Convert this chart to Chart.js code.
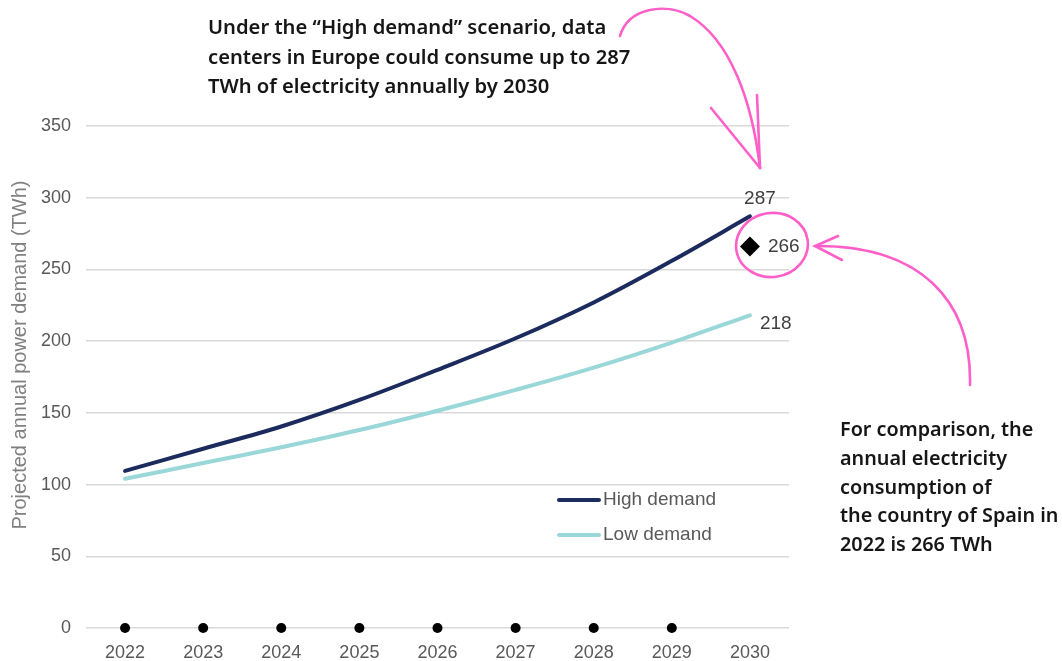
<!DOCTYPE html>
<html>
<head>
<meta charset="utf-8">
<script src="https://cdn.jsdelivr.net/npm/chart.js@4/dist/chart.umd.min.js"></script>
<style>
  html, body { margin: 0; padding: 0; background: #ffffff; }
  #wrap { position: relative; width: 1062px; height: 661px; overflow: hidden; }
  canvas { position: absolute; left: 0; top: 0; }
  .note { position: absolute; font-family: "Noto Sans", "Open Sans", sans-serif; font-weight: 600;
          font-size: 20.2px; line-height: 29.5px; color: #161616; white-space: nowrap; }
  svg { position: absolute; left: 0; top: 0; pointer-events: none; }
</style>
</head>
<body>
<div id="wrap">
  <canvas id="c" width="1062" height="661"></canvas>
  <svg width="1062" height="661" viewBox="0 0 1062 661">
    <g fill="none" stroke="#ff5fc8" stroke-width="2.6" stroke-linecap="round">
      <path d="M620,36 C628,8 665,2 690,16 C730,40 752,100 760,168"/>
      <path d="M711,108 L760,168"/>
      <path d="M757,95 L760,168"/>
      <ellipse cx="772" cy="245" rx="36" ry="32" transform="rotate(-8 772 245)"/>
      <path d="M970,385 C972,300 920,245 815,246"/>
      <path d="M838,236 L815,246 L842,260"/>
    </g>
  </svg>
  <div class="note" style="left:208px; top:12px;">Under the “High demand” scenario, data<br>centers in Europe could consume up to 287<br>TWh of electricity annually by 2030</div>
  <div class="note" style="left:840px; top:415px; font-size:19.8px; line-height:28.8px;">For comparison, the<br>annual electricity<br>consumption of<br>the country of Spain in<br>2022 is 266 TWh</div>
</div>
<script>
const years = ["2022","2023","2024","2025","2026","2027","2028","2029","2030"];
const highDemand = [109.5, 125, 140.5, 159, 180, 202, 227, 256, 287];
const lowDemand  = [104, 115, 126, 138, 151.5, 166, 181.5, 199, 218];
const baselineDots = [0, 0, 0, 0, 0, 0, 0, 0, null];
const spain = [null, null, null, null, null, null, null, null, 266];
const yTicks = [0, 50, 100, 150, 200, 250, 300, 350];
const yTitle = 'Projected annual power demand (TWh)';

const textFont = '"Liberation Sans", Arial, sans-serif';
const gray = '#595959';

const overlay = {
  id: 'overlay',
  afterDatasetsDraw(chart) {
    const ctx = chart.ctx;
    const x = chart.scales.x, y = chart.scales.y;
    const last = years.length - 1;
    ctx.save();
    // y axis title
    ctx.save();
    ctx.translate(20, 355);
    ctx.rotate(-Math.PI / 2);
    ctx.font = '20px ' + textFont;
    ctx.fillStyle = '#808080';
    ctx.textAlign = 'center';
    ctx.textBaseline = 'middle';
    ctx.fillText(yTitle, 0, 0);
    ctx.restore();

    ctx.font = '19px ' + textFont;
    ctx.fillStyle = '#404040';
    ctx.textBaseline = 'middle';
    // value labels
    ctx.textAlign = 'center';
    ctx.fillText(String(highDemand[last]), x.getPixelForValue(last) + 10, y.getPixelForValue(highDemand[last]) - 18);
    ctx.textAlign = 'left';
    ctx.fillText(String(spain[last]), x.getPixelForValue(last) + 18, y.getPixelForValue(spain[last]));
    ctx.fillText(String(lowDemand[last]), x.getPixelForValue(last) + 10, y.getPixelForValue(lowDemand[last]) + 8);
    // legend
    const items = [chart.data.datasets[0], chart.data.datasets[1]];
    items.forEach((ds, i) => {
      const ly = 500 + i * 35;
      ctx.strokeStyle = ds.borderColor;
      ctx.lineWidth = 4;
      ctx.lineCap = 'round';
      ctx.beginPath();
      ctx.moveTo(559, ly);
      ctx.lineTo(599, ly);
      ctx.stroke();
      ctx.fillStyle = gray;
      ctx.textAlign = 'left';
      ctx.fillText(ds.label, 603, ly);
    });
    ctx.restore();
  }
};

new Chart(document.getElementById('c'), {
  type: 'line',
  data: {
    labels: years,
    datasets: [
      { label: 'High demand', data: highDemand, borderColor: '#1b2b5e', borderWidth: 4,
        pointRadius: 0, tension: 0.35, borderCapStyle: 'round', order: 2 },
      { label: 'Low demand', data: lowDemand, borderColor: '#9ad7d8', borderWidth: 4,
        pointRadius: 0, tension: 0.35, borderCapStyle: 'round', order: 3 },
      { label: 'dots', data: baselineDots, showLine: false, pointRadius: 5, pointBackgroundColor: '#000',
        pointBorderWidth: 0, clip: false, order: 1 },
      { label: 'Spain', data: spain, showLine: false, pointStyle: 'rectRot', pointRadius: 10,
        pointBackgroundColor: '#000', pointBorderWidth: 0, clip: false, order: 0 }
    ]
  },
  options: {
    responsive: false,
    animation: false,
    devicePixelRatio: 1,
    layout: { padding: { top: 126, right: 273, left: 10, bottom: 0 } },
    plugins: { legend: { display: false }, tooltip: { enabled: false } },
    scales: {
      x: {
        offset: true,
        grid: { display: false },
        border: { display: false },
        ticks: { color: gray, font: { family: textFont, size: 18 }, padding: 6, maxRotation: 0 },
        afterFit(s) { s.height = 33; }
      },
      y: {
        min: 0, max: 350,
        afterBuildTicks(s) { s.ticks = yTicks.map(v => ({ value: v })); },
        grid: { color: '#d9d9d9', lineWidth: 1.5, drawTicks: false },
        border: { display: false },
        ticks: { color: gray, font: { family: textFont, size: 18 }, padding: 15 },
        title: { display: false },
        afterFit(s) { s.width = 76; }
      }
    }
  },
  plugins: [overlay]
});
</script>
</body>
</html>
